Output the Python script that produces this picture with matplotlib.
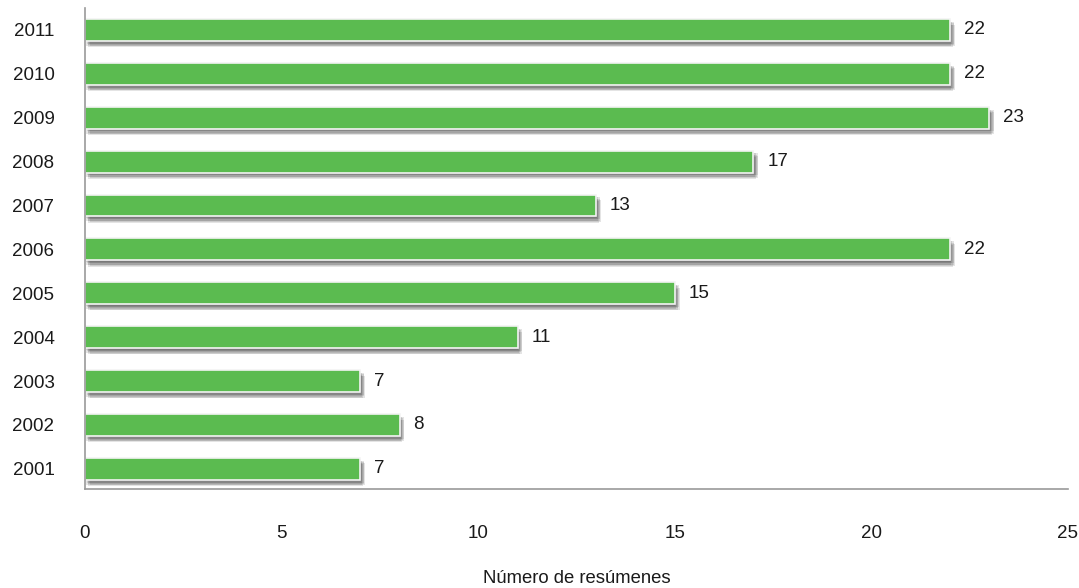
import matplotlib
matplotlib.use('Agg')
import matplotlib.pyplot as plt
import matplotlib.patheffects as pe

anios = ['2001', '2002', '2003', '2004', '2005', '2006', '2007', '2008', '2009', '2010', '2011']
resumenes = [7, 8, 7, 11, 15, 22, 13, 17, 23, 22, 22]
ticks_x = [0, 5, 10, 15, 20, 25]

plt.rcParams['font.family'] = ['Liberation Sans', 'DejaVu Sans']

fig = plt.figure(figsize=(10.79, 5.88), dpi=100)
ax = fig.add_axes([85 / 1079, 99 / 588, 983 / 1079, 481 / 588])

pos = list(range(len(anios)))
barras = ax.barh(pos, resumenes, height=0.5, color='#5BBB50',
                 edgecolor='#f4f4f4', linewidth=1.2)

# sombra difusa: varias capas con poca opacidad
sombra = [pe.SimplePatchShadow(offset=(dx, -dy), shadow_rgbFace='#222222', alpha=0.12)
          for dx, dy in [(0.5, 1), (1.5, 2), (2.5, 3), (3.5, 4), (1, 3.5), (3, 2), (2, 4.5)]]
for b in barras:
    b.set_path_effects(sombra + [pe.Normal()])

for p, v in zip(pos, resumenes):
    ax.annotate(str(v), (v, p), xytext=(10, 0), textcoords='offset points',
                va='center', ha='left', fontsize=13.5, color='#1a1a1a')

ax.set_xlim(0, 25)
ax.set_ylim(-0.46, 10.5)
ax.set_xticks(ticks_x)
ax.set_yticks(pos)
ax.set_yticklabels(anios)
ax.tick_params(axis='x', length=0, pad=26, labelsize=13.5, labelcolor='#1a1a1a')
ax.tick_params(axis='y', length=0, pad=22, labelsize=13.5, labelcolor='#1a1a1a')
ax.set_xlabel('Número de resúmenes', fontsize=13.3, labelpad=20, color='#1a1a1a')

for s in ['top', 'right']:
    ax.spines[s].set_visible(False)
for s in ['left', 'bottom']:
    ax.spines[s].set_color('#9a9a9a')
    ax.spines[s].set_linewidth(1.2)

fig.savefig('out.png', dpi=100)
